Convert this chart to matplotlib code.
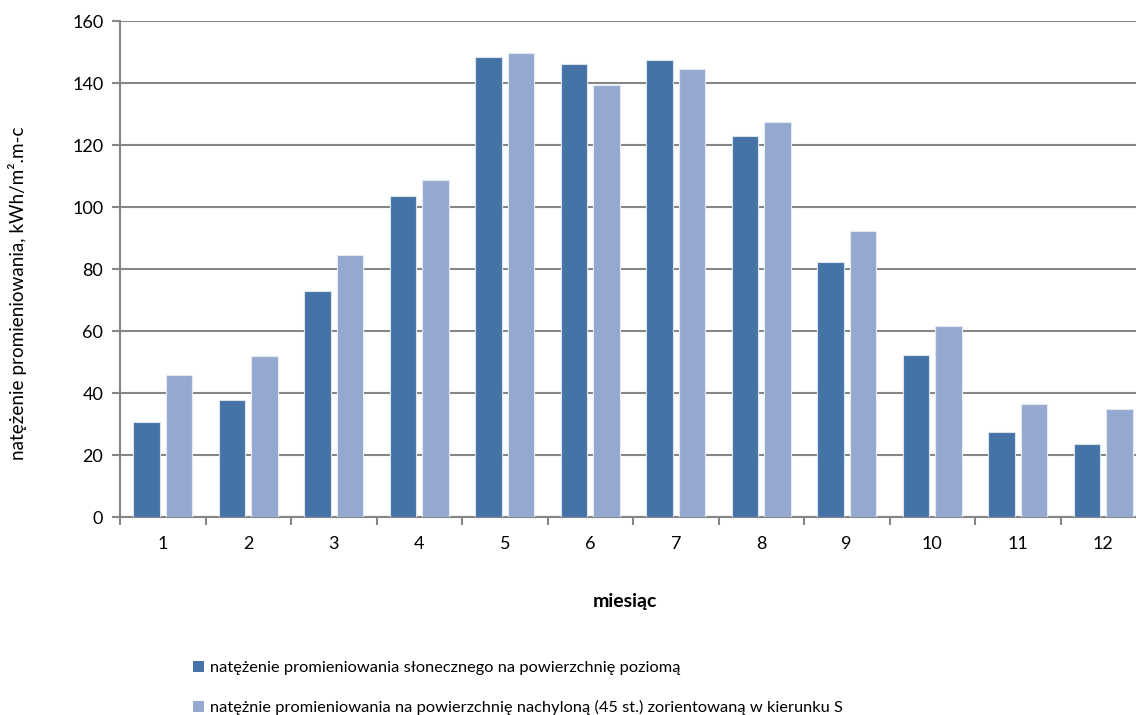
import matplotlib
matplotlib.use("Agg")
import matplotlib.pyplot as plt
from matplotlib.patches import Patch
import numpy as np

plt.rcParams['font.family'] = ['Lato', 'DejaVu Sans']

months = ["1", "2", "3", "4", "5", "6", "7", "8", "9", "10", "11", "12"]
horizontal = [30.5, 37.6, 72.8, 103.5, 148.3, 146.0, 147.5, 122.8, 82.2, 52.2, 27.3, 23.7]
tilted = [45.7, 51.8, 84.4, 108.6, 149.8, 139.4, 144.6, 127.3, 92.2, 61.5, 36.6, 35.0]
series_labels = [
    "natężenie promieniowania słonecznego na powierzchnię poziomą",
    "natężnie promieniowania na powierzchnię nachyloną (45 st.) zorientowaną w kierunku S",
]
yticks = [0, 20, 40, 60, 80, 100, 120, 140, 160]

c_dark = "#4572A7"
c_light = "#95A9D0"
grid_c = "#868686"

W, H = 1136, 715
fig = plt.figure(figsize=(W / 100, H / 100), dpi=100)
ax = fig.add_axes([120 / W, 1 - 517 / H, (1146 - 120) / W, 496 / H])

x = np.arange(len(months))
bw = 0.315
ax.bar(x - 0.19, horizontal, width=bw, color=c_dark, edgecolor="#dbe3ef", linewidth=0.8, zorder=3)
ax.bar(x + 0.19, tilted, width=bw, color=c_light, edgecolor="#e4eaf4", linewidth=0.8, zorder=3)

ax.set_xlim(-0.5, len(months) - 0.5)
ax.set_ylim(0, 160)
ax.set_yticks(yticks)
ax.set_yticklabels([str(v) for v in yticks], fontsize=13)
ax.yaxis.grid(True, color=grid_c, linewidth=1.5, zorder=0)
ax.set_axisbelow(True)

ax.set_xticks(x)
ax.set_xticklabels(months, fontsize=13)
ax.tick_params(axis='x', length=0, pad=14)
ax.set_xticks(np.arange(-0.5, len(months), 1.0), minor=True)
ax.tick_params(axis='x', which='minor', length=6, color=grid_c, width=1.5)
ax.tick_params(axis='y', length=6, color=grid_c, width=1.5, pad=6)

for s in ["top", "right"]:
    ax.spines[s].set_visible(False)
for s in ["left", "bottom"]:
    ax.spines[s].set_color(grid_c)
    ax.spines[s].set_linewidth(1.5)

ax.set_ylabel("natężenie promieniowania, kWh/m².m-c", fontsize=13.6)
ax.yaxis.set_label_coords(-0.0906, 0.452)
fig.text(625 / W, 1 - 602 / H, "miesiąc", fontsize=14, fontweight="bold", ha="center", va="center")

handles = [Patch(facecolor=c_dark, edgecolor="none"), Patch(facecolor=c_light, edgecolor="none")]
fig.legend(handles, series_labels, loc="upper left", bbox_to_anchor=(193 / W, 1 - 661 / H),
           frameon=False, fontsize=11.8, handlelength=0.7, handleheight=0.7, handletextpad=0.35,
           labelspacing=1.5, borderpad=0, borderaxespad=0)

fig.savefig("out.png", dpi=100)
